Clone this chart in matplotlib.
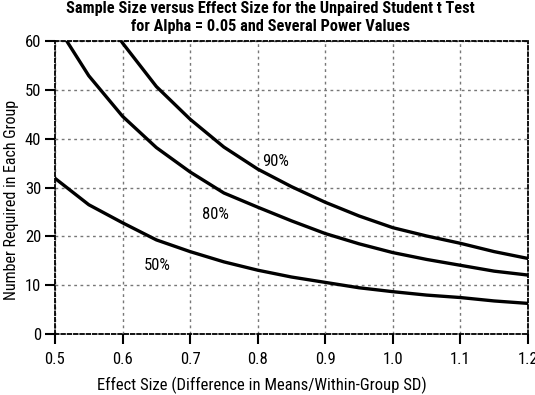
import matplotlib.pyplot as plt
from matplotlib import font_manager

effect = [0.50, 0.55, 0.60, 0.65, 0.70, 0.75, 0.80, 0.85, 0.90, 0.95, 1.00, 1.05, 1.10, 1.15, 1.20]
n_50 = [31.9, 26.5, 22.8, 19.3, 16.9, 14.8, 13.1, 11.7, 10.6, 9.5, 8.7, 8.0, 7.5, 6.8, 6.3]
n_80 = [63.8, 52.9, 44.6, 38.2, 33.2, 28.9, 26.0, 23.2, 20.6, 18.5, 16.7, 15.3, 14.1, 12.9, 12.1]
n_90 = [85.0, 70.0, 59.6, 50.7, 44.0, 38.3, 33.8, 30.2, 27.0, 24.2, 21.8, 20.1, 18.6, 16.9, 15.5]

labels = ['50%', '80%', '90%']
label_pos = [(0.652, 14.0), (0.738, 24.4), (0.826, 35.4)]

xticks = [0.5, 0.6, 0.7, 0.8, 0.9, 1.0, 1.1, 1.2]
xtick_labels = ['0.5', '0.6', '0.7', '0.8', '0.9', '1.0', '1.1', '1.2']
yticks = [0, 10, 20, 30, 40, 50, 60]

# the reference uses a condensed sans, take the first narrow family found
installed = set(f.name for f in font_manager.fontManager.ttflist)
narrow = 'DejaVu Sans'
for name in ['Roboto Condensed', 'Liberation Sans Narrow', 'DejaVu Sans Condensed']:
    if name in installed:
        narrow = name
        break
plt.rcParams['font.family'] = [narrow, 'DejaVu Sans']

fig = plt.figure(figsize=(5.35, 3.95), dpi=100)
ax = fig.add_axes([0.1028, 0.154, 0.884, 0.742])

for series in [n_50, n_80, n_90]:
    ax.plot(effect, series, color='black', lw=2.4, zorder=3)

for text, (x, y) in zip(labels, label_pos):
    ax.text(x, y, text, fontsize=12, ha='center', va='center', zorder=4)

ax.set_xlim(0.5, 1.2)
ax.set_ylim(0, 60)
ax.set_xticks(xticks)
ax.set_xticklabels(xtick_labels)
ax.set_yticks(yticks)

ax.grid(True, color='#777777', linestyle=(0, (2, 2.5)), lw=1)
for side in ['top', 'right', 'left', 'bottom']:
    ax.spines[side].set_linestyle((0, (2, 1.5)))
    ax.spines[side].set_linewidth(1.3)
    ax.spines[side].set_color('black')

ax.tick_params(direction='out', length=7, width=1.5, labelsize=12)
ax.tick_params(axis='x', pad=6)
ax.tick_params(axis='y', pad=3)

fig.text(0.49, 0.012, 'Effect Size (Difference in Means/Within-Group SD)', fontsize=12,
         ha='center', va='baseline')
fig.text(0.021, 0.494, 'Number Required in Each Group', fontsize=11.5, rotation=90,
         ha='center', va='center')
fig.text(0.505, 0.998, 'Sample Size versus Effect Size for the Unpaired Student t Test\nfor Alpha = 0.05 and Several Power Values',
         fontsize=11.7, fontweight='bold', linespacing=1.3, ha='center', va='top')

plt.savefig('out.png')
